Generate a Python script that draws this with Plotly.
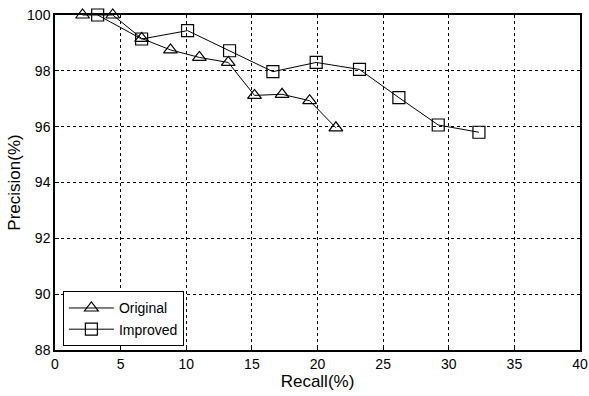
import plotly.graph_objects as go

recall_original = [2.1, 4.4, 6.6, 8.8, 11.0, 13.2, 15.2, 17.3, 19.4, 21.4]
precision_original = [100.0, 100.0, 99.16, 98.75, 98.48, 98.3, 97.12, 97.16, 96.93, 95.96]

recall_improved = [3.25, 6.6, 10.1, 13.3, 16.6, 19.9, 23.2, 26.2, 29.2, 32.3]
precision_improved = [100.0, 99.14, 99.44, 98.72, 97.97, 98.3, 98.05, 97.04, 96.06, 95.8]

x_ticks = [0, 5, 10, 15, 20, 25, 30, 35, 40]
y_ticks = [88, 90, 92, 94, 96, 98, 100]

font_family = "Liberation Sans, Arial, sans-serif"

fig = go.Figure()
fig.add_trace(go.Scatter(
    x=recall_original, y=precision_original, name="Original",
    mode="lines+markers",
    line=dict(color="black", width=1),
    marker=dict(symbol="triangle-up-open", size=12, color="black", line=dict(width=1.2)),
    cliponaxis=False,
))
fig.add_trace(go.Scatter(
    x=recall_improved, y=precision_improved, name="Improved",
    mode="lines+markers",
    line=dict(color="black", width=1),
    marker=dict(symbol="square-open", size=12, color="black", line=dict(width=1.2)),
    cliponaxis=False,
))

axis_common = dict(
    showline=True, linecolor="black", linewidth=1.5, mirror=True,
    showgrid=True, gridcolor="black", griddash="3px,3px", gridwidth=1,
    zeroline=False, ticks="inside", ticklen=4, tickcolor="black",
    tickfont=dict(family=font_family, size=14, color="black"),
    automargin=False, ticklabeloverflow="allow",
)

fig.update_layout(
    width=589, height=396,
    margin=dict(l=55, r=9, t=15, b=46),
    paper_bgcolor="white", plot_bgcolor="white",
    font=dict(family=font_family, color="black"),
    xaxis=dict(range=[0, 40], tickvals=x_ticks, ticktext=[str(v) for v in x_ticks],
               title=dict(text="Recall(%)", font=dict(size=17), standoff=0), **axis_common),
    yaxis=dict(range=[88, 100], tickvals=y_ticks, ticktext=[str(v) for v in y_ticks],
               title=dict(text="Precision(%)", font=dict(size=17), standoff=2), **axis_common),
    legend=dict(x=0.015, y=0.175, xanchor="left", yanchor="top",
                bordercolor="black", borderwidth=1, bgcolor="white",
                font=dict(family=font_family, size=14, color="black"),
                tracegroupgap=0, itemwidth=45),
    showlegend=True,
)

fig.write_html(
    "out.html",
    config={"displayModeBar": False},
    post_script="document.body.style.margin='0';document.body.style.overflow='hidden';",
)
